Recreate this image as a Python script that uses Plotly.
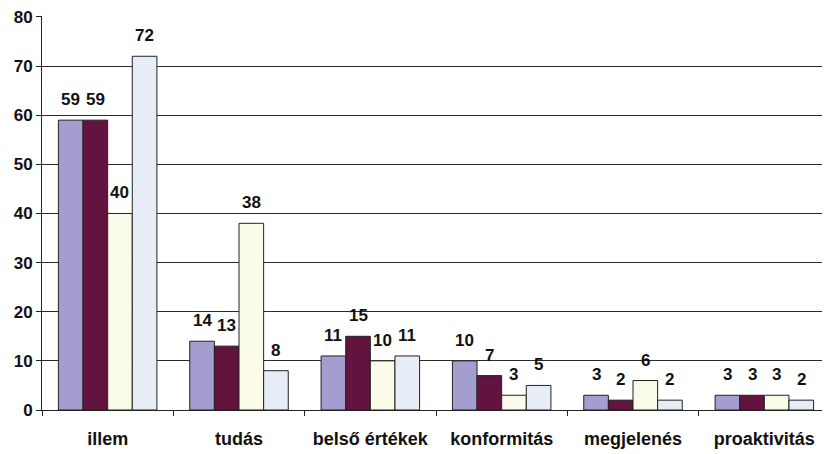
import plotly.graph_objects as go

categories = ["illem", "tudás", "belső értékek", "konformitás", "megjelenés", "proaktivitás"]
series1 = [59, 14, 11, 10, 3, 3]
series2 = [59, 13, 15, 7, 2, 3]
series3 = [40, 38, 10, 3, 6, 3]
series4 = [72, 8, 11, 5, 2, 2]
colors = ["#a39ecf", "#62143f", "#fbfbea", "#e6edf6"]
y_ticks = [0, 10, 20, 30, 40, 50, 60, 70, 80]

FONT = "Liberation Sans, Arial"
bargap = 0.25
all_series = [series1, series2, series3, series4]
n = len(all_series)
bw = (1 - bargap) / n

fig = go.Figure()
for vals, col in zip(all_series, colors):
    fig.add_trace(go.Bar(
        x=categories, y=vals,
        marker=dict(color=col, line=dict(color="#222222", width=1)),
        showlegend=False,
    ))

annotations = []
for j, vals in enumerate(all_series):
    for i, v in enumerate(vals):
        annotations.append(dict(
            x=i + (j - (n - 1) / 2) * bw, y=v, xref="x", yref="y",
            text=str(v), showarrow=False, yanchor="bottom", yshift=9,
            font=dict(family=FONT, size=17, color="#111111", weight="bold"),
        ))

fig.update_layout(
    width=822, height=446,
    margin=dict(l=34, r=0, t=6, b=44),
    paper_bgcolor="white", plot_bgcolor="white",
    barmode="group", bargap=bargap, bargroupgap=0,
    font=dict(family=FONT, size=14, color="#111111"),
    annotations=annotations,
)
fig.update_yaxes(
    range=[0, 80.2], tickvals=y_ticks, showgrid=True, gridcolor="#2a2a2a", gridwidth=1,
    showline=True, linecolor="#222222", linewidth=1, ticks="outside", ticklen=5,
    tickcolor="#222222", tickfont=dict(size=17, weight="bold"), zeroline=False,
    ticklabeloverflow="allow",
)
fig.update_xaxes(
    showline=True, linecolor="#222222", linewidth=1, ticks="outside", ticklen=5,
    tickcolor="#222222", tickson="boundaries", ticklabelstandoff=12,
    tickfont=dict(size=18, weight="bold"),
)
fig.write_html("out.html")
